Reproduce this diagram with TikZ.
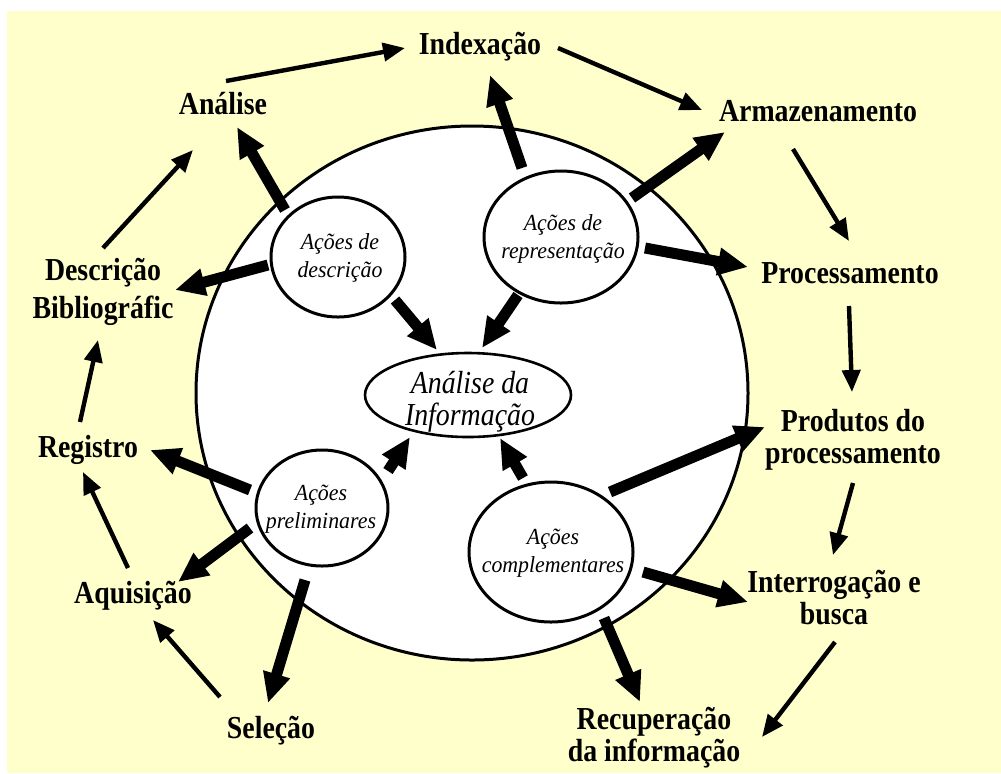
\documentclass[tikz,border=0pt]{standalone}
\usepackage{fontspec}
\setmainfont{Liberation Serif}
\usetikzlibrary{shapes.geometric,arrows.meta}
\definecolor{cream}{RGB}{255,255,204}
\begin{document}
\begin{tikzpicture}[x=0.5pt,y=-0.5pt,
  lbl/.style={font=\fontsize{16}{16}\selectfont\bfseries, align=center, inner sep=0pt, xscale=0.87, transform shape},
  sm/.style={font=\fontsize{11.5}{14}\selectfont\itshape, align=center, inner sep=0pt, xscale=0.95, transform shape},
  circ/.style={draw, line width=1.5pt, ellipse, fill=white, inner sep=0pt},
  thinarr/.style={line width=2.2pt, -{Triangle[length=11pt,width=9pt]}},
  thickarr/.style={line width=5.5pt, -{Triangle[length=15pt,width=13pt]}},
]
\useasboundingbox[fill=white] (0,0) rectangle (1001,773);
\fill[cream] (7,11) rectangle (1001,773);

% big circle
\node[circ, minimum width=276pt, minimum height=267pt] (big) at (472,393) {};

% inner ellipses
\node[circ, minimum width=67pt, minimum height=60pt] (desc) at (338,257) {};
\node[circ, minimum width=77pt, minimum height=66pt] (repr) at (561,237) {};
\node[circ, minimum width=66pt, minimum height=58pt] (prel) at (322,508) {};
\node[circ, minimum width=82pt, minimum height=70pt] (comp) at (551,552) {};
\node[circ, line width=1.3pt, minimum width=103pt, minimum height=42pt] (info) at (468,395) {};

% texts inside
\node[sm] (tdesc) at (340,258) {Ações de\\descrição};
\node[sm] (trepr) at (563,239) {Ações de\\representação};
\node[sm] (tprel) at (321,509) {Ações\\preliminares};
\node[sm] (tcomp) at (553,553) {Ações\\complementares};
\node[font=\fontsize{16}{16}\selectfont\itshape, align=center, inner sep=0pt, xscale=0.87, transform shape] (tinfo) at (470,402) {Análise da\\Informação};

% outer labels
\node[lbl] (indexacao) at (480,47) {Indexação};
\node[lbl] (analise) at (223,104) {Análise};
\node[lbl] (armaz) at (818,111) {Armazenamento};
\node[lbl, font=\fontsize{16}{19}\selectfont\bfseries] (descbib) at (103,292) {Descrição\\Bibliográfic};
\node[lbl] (proc) at (850,273) {Processamento};
\node[lbl] (produtos) at (853,440) {Produtos do\\processamento};
\node[lbl] (registro) at (88,450) {Registro};
\node[lbl] (aquis) at (133,596) {Aquisição};
\node[lbl] (selecao) at (271,731) {Seleção};
\node[lbl] (interrog) at (834,598) {Interrogação e\\busca};
\node[lbl] (recup) at (654,738) {Recuperação\\da informação};

% outer cycle (thin arrows)
\draw[thinarr] ([shift={(3,-23)}]analise.center) -- ([shift={(-75,1)}]indexacao.center);
\draw[thinarr] ([shift={(78,1)}]indexacao.center) -- ([shift={(-116,-1)}]armaz.center);
\draw[thinarr] ([shift={(-25,38)}]armaz.center) -- ([shift={(-1,-32)}]proc.center);
\draw[thinarr] ([shift={(-1,33)}]proc.center) -- ([shift={(-1,-48)}]produtos.center);
\draw[thinarr] ([shift={(0,43)}]produtos.center) -- ([shift={(-1,-43)}]interrog.center);
\draw[thinarr] ([shift={(1,44)}]interrog.center) -- ([shift={(108,-1)}]recup.center);
\draw[thinarr] ([shift={(-51,-34)}]selecao.center) -- ([shift={(20,24)}]aquis.center);
\draw[thinarr] ([shift={(-5,-28)}]aquis.center) -- ([shift={(-5,22)}]registro.center);
\draw[thinarr] ([shift={(-8,-28)}]registro.center) -- ([shift={(-5,48)}]descbib.center);
\draw[thinarr] ([shift={(0,-44)}]descbib.center) -- ([shift={(-30,46)}]analise.center);

% thick arrows from inner ellipses
\draw[thickarr] ([shift={(-53,-47)}]desc.center) -- ([shift={(14,23)}]analise.center);
\draw[thickarr] ([shift={(-70,8)}]desc.center) -- ([shift={(72,-2)}]descbib.center);
\draw[thickarr] ([shift={(57,43)}]desc.center) -- ([shift={(-31,-45)}]info.center);
\draw[thickarr] ([shift={(-39,-69)}]repr.center) -- ([shift={(10,28)}]indexacao.center);
\draw[thickarr] ([shift={(71,-39)}]repr.center) -- ([shift={(-93,21)}]armaz.center);
\draw[thickarr] ([shift={(84,11)}]repr.center) -- ([shift={(-102,-6)}]proc.center);
\draw[thickarr] ([shift={(-43,58)}]repr.center) -- ([shift={(14,-47)}]info.center);
\draw[thickarr] ([shift={(-72,-18)}]prel.center) -- ([shift={(62,0)}]registro.center);
\draw[thickarr] ([shift={(-72,20)}]prel.center) -- ([shift={(45,-14)}]aquis.center);
\draw[thickarr] ([shift={(-17,72)}]prel.center) -- ([shift={(-3,-28)}]selecao.center);
\draw[thickarr] ([shift={(66,-37)}]prel.center) -- ([shift={(-58,42)}]info.center);
\draw[thickarr] ([shift={(-28,-74)}]comp.center) -- ([shift={(32,43)}]info.center);
\draw[thickarr] ([shift={(59,-60)}]comp.center) -- ([shift={(-88,-13)}]produtos.center);
\draw[thickarr] ([shift={(92,20)}]comp.center) -- ([shift={(-86,4)}]interrog.center);
\draw[thickarr] ([shift={(53,66)}]comp.center) -- ([shift={(-14,-36)}]recup.center);
\end{tikzpicture}
\end{document}
